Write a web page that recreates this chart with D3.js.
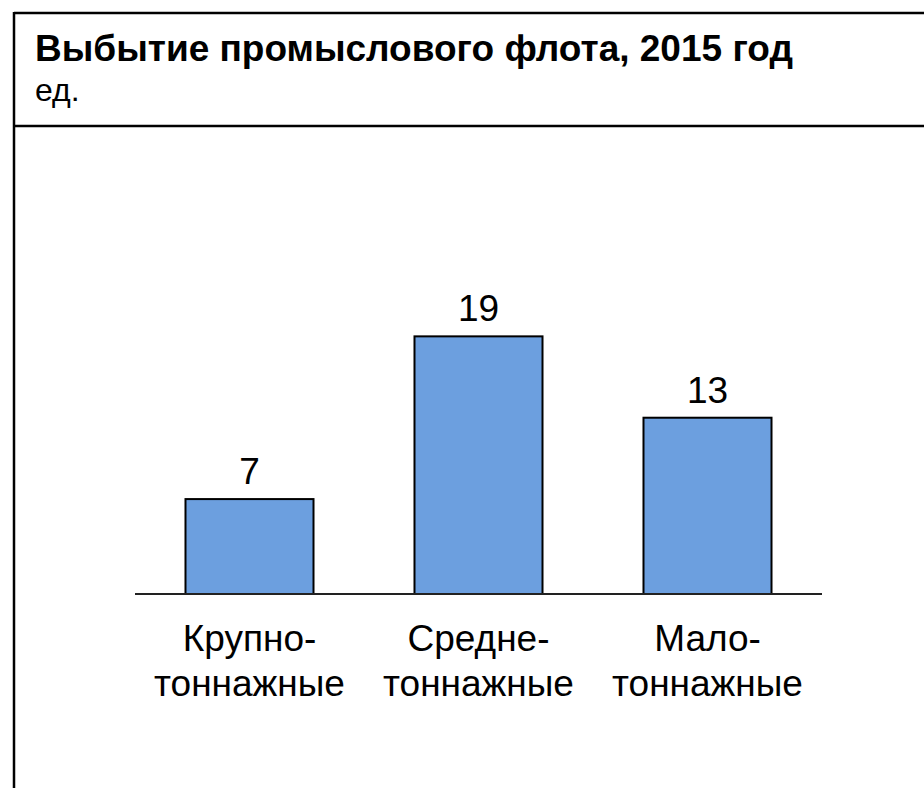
<!DOCTYPE html>
<html>
<head>
<meta charset="utf-8">
<script src="https://cdn.jsdelivr.net/npm/d3@7"></script>
<style>
  html, body { margin: 0; padding: 0; background: #fff; }
  svg { display: block; font-family: "Liberation Sans", Arial, sans-serif; }
</style>
</head>
<body>
<svg id="chart" width="924" height="788"></svg>
<script>
const title = "Выбытие промыслового флота, 2015 год";
const subtitle = "ед.";
const categories = [["Крупно-", "тоннажные"], ["Средне-", "тоннажные"], ["Мало-", "тоннажные"]];
const values = [7, 19, 13];

const svg = d3.select("#chart");
const W = 924, H = 788;

// frame
svg.append("line").attr("x1", 14).attr("x2", W).attr("y1", 13).attr("y2", 13)
  .attr("stroke", "#000").attr("stroke-width", 2.5);
svg.append("line").attr("x1", 14).attr("x2", 14).attr("y1", 12).attr("y2", H)
  .attr("stroke", "#000").attr("stroke-width", 2.5);
svg.append("line").attr("x1", 14).attr("x2", W).attr("y1", 126).attr("y2", 126)
  .attr("stroke", "#000").attr("stroke-width", 2.5);

svg.append("text").attr("x", 35).attr("y", 61)
  .attr("font-size", 37).attr("font-weight", "bold").attr("fill", "#000").text(title);
svg.append("text").attr("x", 35).attr("y", 101)
  .attr("font-size", 32).attr("fill", "#000").text(subtitle);

const x = d3.scaleBand().domain(d3.range(categories.length)).range([135, 822])
  .paddingInner(0.441).paddingOuter(0.2205);
const baseY = 594;
const y = d3.scaleLinear().domain([0, 20]).range([baseY, baseY - 20 * 13.56]);

svg.selectAll("rect.bar").data(values).join("rect").attr("class", "bar")
  .attr("x", (d, i) => x(i)).attr("width", x.bandwidth())
  .attr("y", d => y(d)).attr("height", d => y(0) - y(d))
  .attr("fill", "#6C9FDF").attr("stroke", "#000").attr("stroke-width", 2);

svg.append("line").attr("x1", 135).attr("x2", 822).attr("y1", baseY).attr("y2", baseY)
  .attr("stroke", "#222").attr("stroke-width", 1.8);

svg.selectAll("text.val").data(values).join("text").attr("class", "val")
  .attr("x", (d, i) => x(i) + x.bandwidth() / 2).attr("y", d => y(d) - 15)
  .attr("text-anchor", "middle").attr("font-size", 37).attr("fill", "#000").text(d => d);

const lab = svg.selectAll("text.cat").data(categories).join("text").attr("class", "cat")
  .attr("text-anchor", "middle").attr("font-size", 37).attr("fill", "#000");
lab.each(function(d, i) {
  const t = d3.select(this);
  d.forEach((line, k) => {
    t.append("tspan").attr("x", x(i) + x.bandwidth() / 2).attr("y", 651 + k * 45).text(line);
  });
});
</script>
</body>
</html>
